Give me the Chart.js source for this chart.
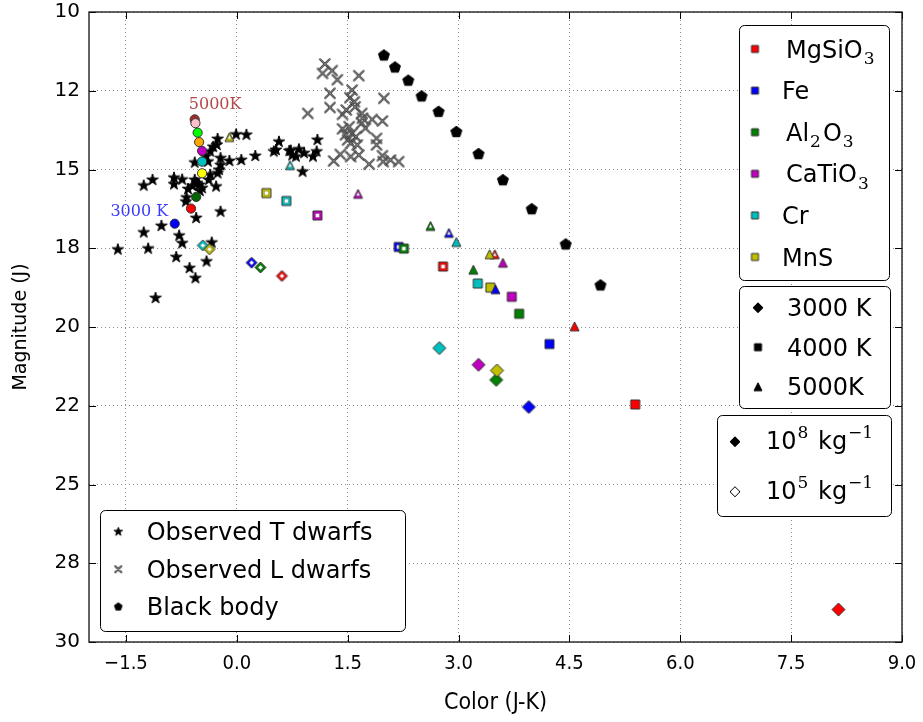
<!DOCTYPE html>
<html>
<head>
<meta charset="utf-8">
<script src="https://cdn.jsdelivr.net/npm/chart.js@4.4.1/dist/chart.umd.min.js"></script>
<style>
    html, body { margin: 0; padding: 0; background: #fff; }
</style>
</head>
<body>
<canvas id="grafico-cor-magnitude" width="923" height="722"></canvas>
<script>
// eixos
const xTicks = [-1.5, 0, 1.5, 3, 4.5, 6, 7.5, 9]
const xTickLabels = ['\u22121.5', '0.0', '1.5', '3.0', '4.5', '6.0', '7.5', '9.0']
const yTicks = [10, 12.5, 15, 17.5, 20, 22.5, 25, 27.5, 30]
const yTickLabels = ['10', '12', '15', '18', '20', '22', '25', '28', '30']

// anas observadas
const tDwarfsX = [-1.61, -1.26, -1.20, -1.02, -0.82, -0.78, -0.74, -1.10, -0.64, -0.56, -0.41, -0.34, -0.22, -0.55, -1.26, -1.14, -0.85, -0.85, -0.74, -0.66, -0.68, -0.69, -0.57, -0.51, -0.47, -0.54, -0.50, -0.60, -0.38, -0.28, -0.36, -0.24, -0.26, -0.22, -0.22, -0.10, 0.06, 0.25, 0.50, 0.53, 0.57, -0.42, -0.39, -0.57, -0.32, -0.27, -0.26, -0.36, -0.01, 0.13, 0.71, 0.75, 0.80, 0.84, 0.91, 1.09, 1.08, 1.03, 0.89, 0.73]
const tDwarfsY = [17.54, 17.00, 17.51, 16.79, 17.78, 17.10, 17.34, 19.08, 18.13, 18.45, 17.92, 17.32, 16.34, 16.54, 15.51, 15.33, 15.26, 15.47, 15.32, 15.62, 15.89, 16.02, 15.33, 15.49, 15.59, 15.43, 15.68, 15.52, 15.33, 15.54, 15.17, 15.01, 15.12, 14.86, 14.64, 14.73, 14.70, 14.57, 14.43, 14.38, 14.12, 14.59, 14.75, 14.78, 14.28, 14.22, 14.03, 14.43, 13.89, 13.90, 14.41, 14.55, 14.59, 14.36, 14.48, 14.06, 14.43, 14.59, 15.07, 14.40]
const lDwarfsX = [1.19, 1.16, 1.29, 1.36, 1.65, 1.26, 1.56, 1.53, 1.99, 1.26, 1.59, 1.60, 0.96, 1.43, 1.48, 1.69, 1.70, 1.83, 1.97, 1.69, 1.74, 1.43, 1.52, 1.47, 1.56, 1.61, 1.50, 1.54, 1.63, 1.89, 1.89, 1.40, 1.31, 1.54, 1.65, 1.79, 1.97, 1.98, 2.08, 2.19]
const lDwarfsY = [11.65, 11.95, 11.86, 12.15, 12.02, 12.58, 12.48, 12.72, 12.74, 13.03, 12.85, 13.01, 13.22, 13.25, 13.11, 13.22, 13.37, 13.41, 13.46, 13.53, 13.69, 13.71, 13.64, 13.90, 13.85, 13.96, 14.06, 14.17, 14.22, 14.01, 14.22, 14.52, 14.73, 14.59, 14.54, 14.83, 14.56, 14.75, 14.70, 14.75]
const blackBodyX = [1.99, 2.14, 2.32, 2.50, 2.73, 2.97, 3.27, 3.60, 3.99, 4.45, 4.92]
const blackBodyY = [11.38, 11.76, 12.18, 12.68, 13.17, 13.81, 14.51, 15.34, 16.26, 17.38, 18.68]

// minerais: MgSiO3, Fe, Al2O3, CaTiO3, Cr, MnS
const minerais = ['MgSiO3', 'Fe', 'Al2O3', 'CaTiO3', 'Cr', 'MnS']
const temperaturas = ['3000 K', '4000 K', '5000K']
const massas = ['10^{8} kg^{\u22121}', '10^{5} kg^{\u22121}']
const observados = ['Observed T dwarfs', 'Observed L dwarfs', 'Black body']

const pesado3000X = [8.14, 3.95, 3.51, 3.27, 2.74, 3.52]
const pesado3000Y = [28.97, 22.54, 21.68, 21.20, 20.67, 21.38]
const pesado4000X = [5.39, 4.23, 3.82, 3.72, 3.26, 3.43]
const pesado4000Y = [22.46, 20.54, 19.58, 19.04, 18.62, 18.75]
const pesado5000X = [4.57, 3.50, 3.20, 3.60, 2.97, 3.42]
const pesado5000Y = [19.98, 18.80, 18.18, 17.96, 17.30, 17.69]
const leve3000X = [0.61, 0.20, 0.32, null, -0.46, -0.37]
const leve3000Y = [18.38, 17.96, 18.11, null, 17.41, 17.53]
const leve4000X = [2.79, 2.19, 2.26, 1.09, 0.67, 0.40]
const leve4000Y = [18.08, 17.46, 17.51, 16.46, 16.00, 15.75]
const leve5000X = [3.49, 2.87, 2.62, 1.64, 0.72, -0.10]
const leve5000Y = [17.69, 17.01, 16.79, 15.77, 14.86, 13.97]

// sequencia de temperatura (circulos)
const circulosX = [-0.57, -0.56, -0.53, -0.51, -0.47, -0.47, -0.47, -0.55, -0.62, -0.84]
const circulosY = [13.41, 13.53, 13.83, 14.13, 14.41, 14.75, 15.12, 15.87, 16.24, 16.72]
const rotulosTemp = ['5000K', '3000 K']
const rotulosTempX = [-0.65, -1.71]
const rotulosTempY = [12.95, 16.35]

// estilos
const coresMinerais = ['#ff0000', '#0000ff', '#008000', '#bf00bf', '#00bfbf', '#bfbf00']
const coresCirculos = ['#a52a2a', '#ffc0cb', '#00ff00', '#ffa500', '#bf00bf', '#00bfbf', '#ffff00', '#006400', '#ff0000', '#0000ff']
const coresRotulosTemp = ['#b34848', '#3a3aff']

const pontos = (xs, ys) => xs.map((x, i) => ({ x: x, y: ys[i] }))

function caminho(ctx, forma, r) {
    ctx.beginPath()
    if (forma === 'diamond') {
        ctx.moveTo(0, -r); ctx.lineTo(r, 0); ctx.lineTo(0, r); ctx.lineTo(-r, 0)
    } else if (forma === 'square') {
        ctx.rect(-r, -r, 2 * r, 2 * r)
    } else if (forma === 'triangle') {
        ctx.moveTo(0, -r); ctx.lineTo(r, r); ctx.lineTo(-r, r)
    } else if (forma === 'circle') {
        ctx.arc(0, 0, r, 0, Math.PI * 2)
    } else if (forma === 'star' || forma === 'pentagon') {
        const n = forma === 'star' ? 10 : 5
        for (let i = 0; i < n; i++) {
            const a = -Math.PI / 2 + i * Math.PI * 2 / n
            const rr = forma === 'star' && i % 2 ? r * 0.382 : r
            ctx.lineTo(Math.cos(a) * rr, Math.sin(a) * rr)
        }
    }
    ctx.closePath()
}

function criarMarcador(forma, r, cor, borda, aberto) {
    const c = document.createElement('canvas')
    const s = Math.ceil(r * 2 + 4)
    c.width = s
    c.height = s
    const ctx = c.getContext('2d')
    ctx.translate(s / 2, s / 2)
    if (forma === 'x') {
        ctx.lineCap = 'round'
        ctx.beginPath()
        ctx.moveTo(-r, -r); ctx.lineTo(r, r); ctx.moveTo(r, -r); ctx.lineTo(-r, r)
        ctx.strokeStyle = '#333'
        ctx.lineWidth = 2
        ctx.stroke()
        ctx.strokeStyle = '#b0b0b0'
        ctx.lineWidth = 0.6
        ctx.stroke()
        return c
    }
    caminho(ctx, forma, r)
    ctx.fillStyle = cor
    ctx.fill()
    ctx.strokeStyle = borda
    ctx.lineWidth = 1
    ctx.stroke()
    if (aberto) {
        caminho(ctx, forma, r * 0.45)
        ctx.fillStyle = '#fff'
        ctx.fill()
        ctx.strokeStyle = 'rgba(0,0,0,0.35)'
        ctx.lineWidth = 0.6
        ctx.stroke()
    }
    return c
}

const marcadoresMinerais = (forma, r, aberto) => coresMinerais.map(cor => criarMarcador(forma, r, cor, '#333', aberto))

function caixa(ctx, x0, y0, x1, y1) {
    const r = 5
    ctx.beginPath()
    ctx.moveTo(x0 + r, y0)
    ctx.arcTo(x1, y0, x1, y1, r)
    ctx.arcTo(x1, y1, x0, y1, r)
    ctx.arcTo(x0, y1, x0, y0, r)
    ctx.arcTo(x0, y0, x1, y0, r)
    ctx.closePath()
    ctx.fillStyle = '#fff'
    ctx.fill()
    ctx.strokeStyle = '#000'
    ctx.lineWidth = 1
    ctx.stroke()
}

function texto(ctx, str, x, y, tam) {
    const partes = str.split(/(\^\{[^}]*\}|_\{[^}]*\})/).filter(p => p)
    ctx.fillStyle = '#000'
    ctx.textBaseline = 'alphabetic'
    ctx.textAlign = 'left'
    partes.forEach(p => {
        if (p[0] === '^' || p[0] === '_') {
            const t = p.slice(2, -1)
            ctx.font = `${Math.round(tam * 0.7)}px 'DejaVu Serif'`
            ctx.fillText(t, x + 1, p[0] === '^' ? y - tam * 0.43 : y + tam * 0.28)
            x += ctx.measureText(t).width + 3
        } else {
            ctx.font = `${tam}px 'DejaVu Sans'`
            ctx.fillText(p, x, y)
            x += ctx.measureText(p).width
        }
    })
}

function marca(ctx, m, x, y) {
    ctx.drawImage(m, x - m.width / 2, y - m.height / 2)
}

const moldura = {
    id: 'moldura',
    afterDatasetsDraw(chart) {
        const { ctx, chartArea: a, scales: { x, y } } = chart
        ctx.save()
        ctx.strokeStyle = '#000'
        ctx.lineWidth = 1
        ctx.beginPath()
        xTicks.forEach(v => {
            const px = Math.round(x.getPixelForValue(v)) + 0.5
            ctx.moveTo(px, a.bottom); ctx.lineTo(px, a.bottom - 7)
            ctx.moveTo(px, a.top); ctx.lineTo(px, a.top + 7)
        })
        yTicks.forEach(v => {
            const py = Math.round(y.getPixelForValue(v)) + 0.5
            ctx.moveTo(a.left, py); ctx.lineTo(a.left + 7, py)
            ctx.moveTo(a.right, py); ctx.lineTo(a.right - 7, py)
        })
        ctx.stroke()
        ctx.lineWidth = 1.3
        ctx.strokeStyle = '#111'
        ctx.strokeRect(a.left, a.top, a.right - a.left, a.bottom - a.top)

        ctx.font = "16px 'DejaVu Serif'"
        ctx.textBaseline = 'middle'
        rotulosTemp.forEach((t, i) => {
            ctx.fillStyle = coresRotulosTemp[i]
            ctx.fillText(t, x.getPixelForValue(rotulosTempX[i]), y.getPixelForValue(rotulosTempY[i]))
        })
        ctx.restore()
    },
    afterDraw(chart) {
        const ctx = chart.ctx
        ctx.save()

        caixa(ctx, 739.5, 25.5, 889.5, 280.5)
        minerais.forEach((m, i) => {
            const yy = 49 + i * 41.6
            marca(ctx, criarMarcador('square', 3.5, coresMinerais[i], '#333'), 755, yy)
            const f = m.replace(/(\d)/g, '_{$1}')
            texto(ctx, f, f === m ? 782 : 786, yy + 8.5, 24)
        })

        caixa(ctx, 739.5, 286.5, 890.5, 408.5)
        const formasTemp = [['diamond', 5], ['square', 3.5], ['triangle', 4]]
        temperaturas.forEach((t, i) => {
            const yy = 307.7 + i * 39.5
            marca(ctx, criarMarcador(formasTemp[i][0], formasTemp[i][1], '#000', '#000'), 758, yy)
            texto(ctx, t, 787, yy + 8.5, 24)
        })

        caixa(ctx, 717.5, 415.5, 891.5, 516.5)
        massas.forEach((t, i) => {
            const yy = 441.7 + i * 50
            marca(ctx, criarMarcador('diamond', 5, i ? '#fff' : '#000', '#000'), 735, yy)
            texto(ctx, t, 766, yy + 6.8, 24)
        })

        caixa(ctx, 100.5, 510.5, 405.5, 631.5)
        const formasObs = [criarMarcador('star', 4.5, '#000', '#000'), criarMarcador('x', 3, '#555', '#555'), criarMarcador('pentagon', 4, '#000', '#000')]
        observados.forEach((t, i) => {
            const yy = 531.7 + i * 37.5
            marca(ctx, formasObs[i], 118.3, yy)
            texto(ctx, t, 146.7, yy + 8.4, 24)
        })
        ctx.restore()
    }
}

const fonteEixo = { family: "'DejaVu Sans'", size: 20 }
const fonteEixoX = { family: "'DejaVu Sans Condensed', 'DejaVu Sans'", size: 20 }

let myChartCorMagnitude = new Chart(
    document.getElementById('grafico-cor-magnitude'),
    {
        type: 'scatter',
        data: {
            datasets: [
                {
                    label: 'circulos',
                    data: pontos(circulosX, circulosY),
                    pointStyle: 'circle',
                    pointRadius: 4.6,
                    backgroundColor: coresCirculos,
                    borderColor: '#333',
                    borderWidth: 1,
                    order: 0
                },
                {
                    label: '5000K pesado',
                    data: pontos(pesado5000X, pesado5000Y),
                    pointStyle: marcadoresMinerais('triangle', 4.5, false),
                    pointRadius: 5,
                    order: 1
                },
                {
                    label: '4000K pesado',
                    data: pontos(pesado4000X, pesado4000Y),
                    pointStyle: marcadoresMinerais('square', 4.5, false),
                    pointRadius: 5,
                    order: 1
                },
                {
                    label: '3000K pesado',
                    data: pontos(pesado3000X, pesado3000Y),
                    pointStyle: marcadoresMinerais('diamond', 6.5, false),
                    pointRadius: 5,
                    order: 1
                },
                {
                    label: '5000K leve',
                    data: pontos(leve5000X, leve5000Y),
                    pointStyle: marcadoresMinerais('triangle', 4.5, true),
                    pointRadius: 5,
                    order: 2
                },
                {
                    label: '4000K leve',
                    data: pontos(leve4000X, leve4000Y),
                    pointStyle: marcadoresMinerais('square', 4.5, true),
                    pointRadius: 5,
                    order: 2
                },
                {
                    label: '3000K leve',
                    data: pontos(leve3000X, leve3000Y),
                    pointStyle: marcadoresMinerais('diamond', 5.5, true),
                    pointRadius: 5,
                    order: 2
                },
                {
                    label: observados[2],
                    data: pontos(blackBodyX, blackBodyY),
                    pointStyle: criarMarcador('pentagon', 5.8, '#000', '#000'),
                    pointRadius: 5,
                    order: 3
                },
                {
                    label: observados[1],
                    data: pontos(lDwarfsX, lDwarfsY),
                    pointStyle: criarMarcador('x', 4.8),
                    pointRadius: 5,
                    order: 4
                },
                {
                    label: observados[0],
                    data: pontos(tDwarfsX, tDwarfsY),
                    pointStyle: criarMarcador('star', 6, '#000', '#000'),
                    pointRadius: 5,
                    order: 5
                }
            ]
        },
        options: {
            responsive: false,
            animation: false,
            events: [],
            layout: {
                padding: { left: 0, top: 12, right: 21, bottom: 0 }
            },
            plugins: {
                legend: { display: false },
                tooltip: { enabled: false }
            },
            scales: {
                x: {
                    type: 'linear',
                    min: -2,
                    max: 9,
                    afterBuildTicks: s => { s.ticks = xTicks.map(v => ({ value: v })) },
                    afterFit: s => { s.height = 80; s.paddingLeft = 0; s.paddingRight = 0 },
                    ticks: {
                        callback: v => xTickLabels[xTicks.indexOf(v)],
                        autoSkip: false,
                        maxRotation: 0,
                        color: '#000',
                        padding: 10,
                        font: fonteEixoX
                    },
                    grid: { color: '#8c8c8c', lineWidth: 1, drawTicks: false },
                    border: { display: false, dash: [1, 3] },
                    title: {
                        display: true,
                        text: 'Color (J-K)',
                        color: '#000',
                        font: { family: "'DejaVu Sans Condensed', 'DejaVu Sans'", size: 23, lineHeight: 1.2 },
                        padding: { top: 0, bottom: 5 }
                    }
                },
                y: {
                    type: 'linear',
                    reverse: true,
                    min: 10,
                    max: 30,
                    afterBuildTicks: s => { s.ticks = yTicks.map(v => ({ value: v })) },
                    afterFit: s => { s.width = 89; s.paddingTop = 0; s.paddingBottom = 0 },
                    ticks: {
                        callback: v => yTickLabels[yTicks.indexOf(v)],
                        autoSkip: false,
                        color: '#000',
                        padding: 9,
                        font: fonteEixo
                    },
                    grid: { color: '#8c8c8c', lineWidth: 1, drawTicks: false },
                    border: { display: false, dash: [1, 3] },
                    title: {
                        display: true,
                        text: 'Magnitude (J)',
                        color: '#000',
                        font: { family: "'DejaVu Sans'", size: 19 },
                        padding: { top: 10, bottom: 0 }
                    }
                }
            }
        },
        plugins: [moldura]
    }
)
</script>
</body>
</html>
